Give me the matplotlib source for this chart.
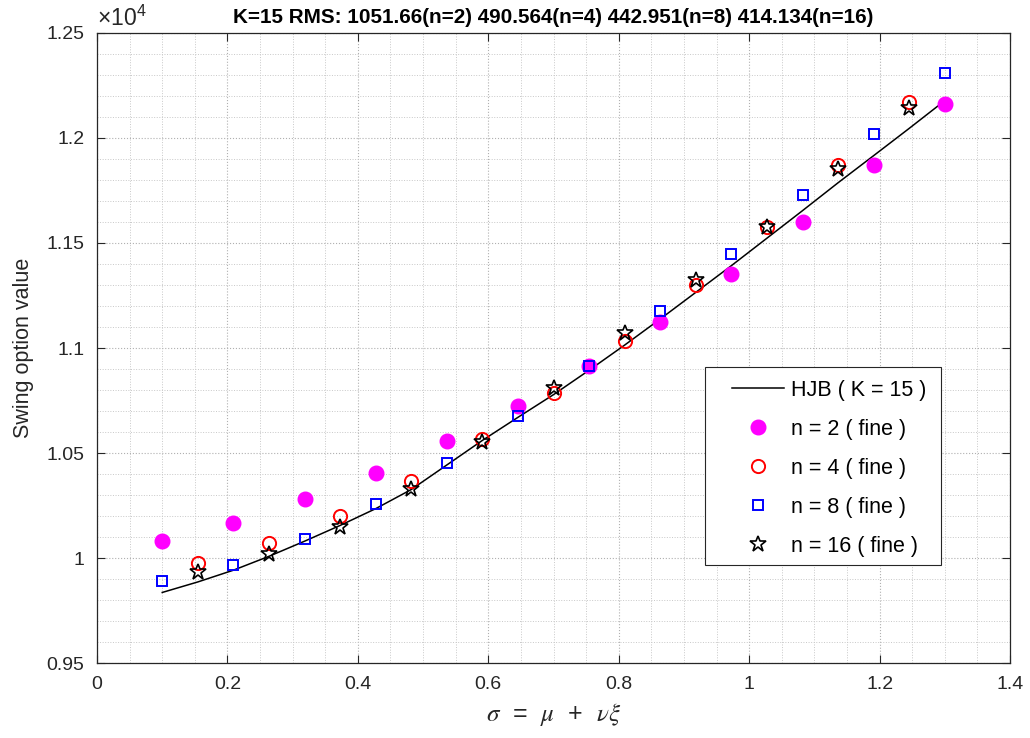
import matplotlib
matplotlib.use('Agg')
import matplotlib.pyplot as plt
import matplotlib.ticker as mt
from matplotlib.patches import Rectangle
import numpy as np

plt.rcParams['font.family'] = ['Liberation Sans', 'DejaVu Sans']
plt.rcParams['mathtext.fontset'] = 'stix'

# sigma grid for the HJB curve and the two interleaved sample grids
sig_hjb = [0.1, 0.1545, 0.2091, 0.2636, 0.3182, 0.3727, 0.4273, 0.4818, 0.5364,
           0.5909, 0.6455, 0.7, 0.7545, 0.8091, 0.8636, 0.9182, 0.9727, 1.0273,
           1.0818, 1.1364, 1.1909, 1.2455, 1.3]
val_hjb = [9836, 9886, 9942, 10008, 10080, 10155, 10235, 10326, 10443,
           10560, 10670, 10778, 10894, 11014, 11138, 11265, 11392, 11523,
           11654, 11787, 11916, 12046, 12178]

sig_even = [0.1, 0.2091, 0.3182, 0.4273, 0.5364, 0.6455, 0.7545, 0.8636,
            0.9727, 1.0818, 1.1909, 1.3]
sig_odd = [0.1545, 0.2636, 0.3727, 0.4818, 0.5909, 0.7, 0.8091, 0.9182,
           1.0273, 1.1364, 1.2455]

val_n2 = [10081, 10168, 10280, 10406, 10556, 10726, 10914, 11122, 11351,
          11601, 11871, 12160]
val_n4 = [9975, 10070, 10201, 10368, 10565, 10784, 11032, 11300, 11578,
          11871, 12171]
val_n8 = [9889, 9968, 10092, 10257, 10454, 10676, 10916, 11175, 11448,
          11729, 12018, 12311]
val_n16 = [9932, 10018, 10149, 10330, 10554, 10808, 11070, 11324, 11578,
           11851, 12144]

title = 'K=15 RMS: 1051.66(n=2) 490.564(n=4) 442.951(n=8) 414.134(n=16)'

fig = plt.figure(figsize=(10.3, 7.38), dpi=100)
ax = fig.add_axes([0.0942, 0.1016, 0.8864, 0.8537])

ax.plot(sig_hjb, val_hjb, '-', color='k', lw=1.1, label='HJB ( K = 15 )')
ax.plot(sig_even, val_n2, 'o', ls='none', color='#ff00ff', ms=10.5,
        label='n = 2 ( fine )')
ax.plot(sig_odd, val_n4, 'o', ls='none', mec='#ff0000', mfc='none', ms=9.5,
        mew=1.4, label='n = 4 ( fine )')
ax.plot(sig_even, val_n8, 's', ls='none', mec='#0000ff', mfc='none', ms=6.5,
        mew=1.4, label='n = 8 ( fine )')
ax.plot(sig_odd, val_n16, '*', ls='none', mec='k', mfc='none', ms=12,
        mew=1.2, label='n = 16 ( fine )')

ax.set_xlim(0, 1.4)
ax.set_ylim(9500, 12500)
ax.xaxis.set_major_locator(mt.MultipleLocator(0.2))
ax.xaxis.set_minor_locator(mt.MultipleLocator(0.05))
ax.yaxis.set_major_locator(mt.MultipleLocator(500))
ax.yaxis.set_minor_locator(mt.MultipleLocator(100))
ax.xaxis.set_major_formatter(mt.FuncFormatter(lambda v, p: '%g' % round(v, 2)))
ax.yaxis.set_major_formatter(mt.FuncFormatter(lambda v, p: '%g' % round(v / 1e4, 3)))

ax.tick_params(which='both', direction='in', top=True, right=True,
               labelsize=14, colors='#262626', pad=9)
ax.tick_params(which='major', length=6, width=0.8)
ax.tick_params(which='minor', length=0)
for s in ax.spines.values():
    s.set_color('#262626')
    s.set_linewidth(0.9)

ax.grid(True, which='major', ls=':', color='#b0b0b0', lw=0.8)
ax.grid(True, which='minor', ls=':', color='#c8c8c8', lw=0.7)

ax.text(0, 1.004, r'$\mathregular{\times10^{4}}$', transform=ax.transAxes,
        ha='left', va='bottom', fontsize=16.5, color='#262626')
ax.set_title(title, fontsize=14.9, fontweight='bold', pad=7)
ax.set_xlabel(r'$\sigma$  =  $\mu$  +  $\nu\xi$', fontsize=18,
              color='#262626', labelpad=6)
ax.set_ylabel('Swing option value', fontsize=15.5, color='#262626',
              labelpad=9)

# legend frame drawn separately so the padding matches
ax.add_patch(Rectangle((0.6659, 0.1556), 0.2585, 0.3143, transform=ax.transAxes,
                       facecolor='white', edgecolor='#262626', lw=0.8,
                       zorder=4.5))
leg = ax.legend(loc='upper left', bbox_to_anchor=(0.6955, 0.45),
                fontsize=15.5, frameon=False, borderpad=0, borderaxespad=0,
                labelspacing=0.84, handlelength=2.4, handletextpad=0.33)

fig.savefig('out.png', dpi=100)
